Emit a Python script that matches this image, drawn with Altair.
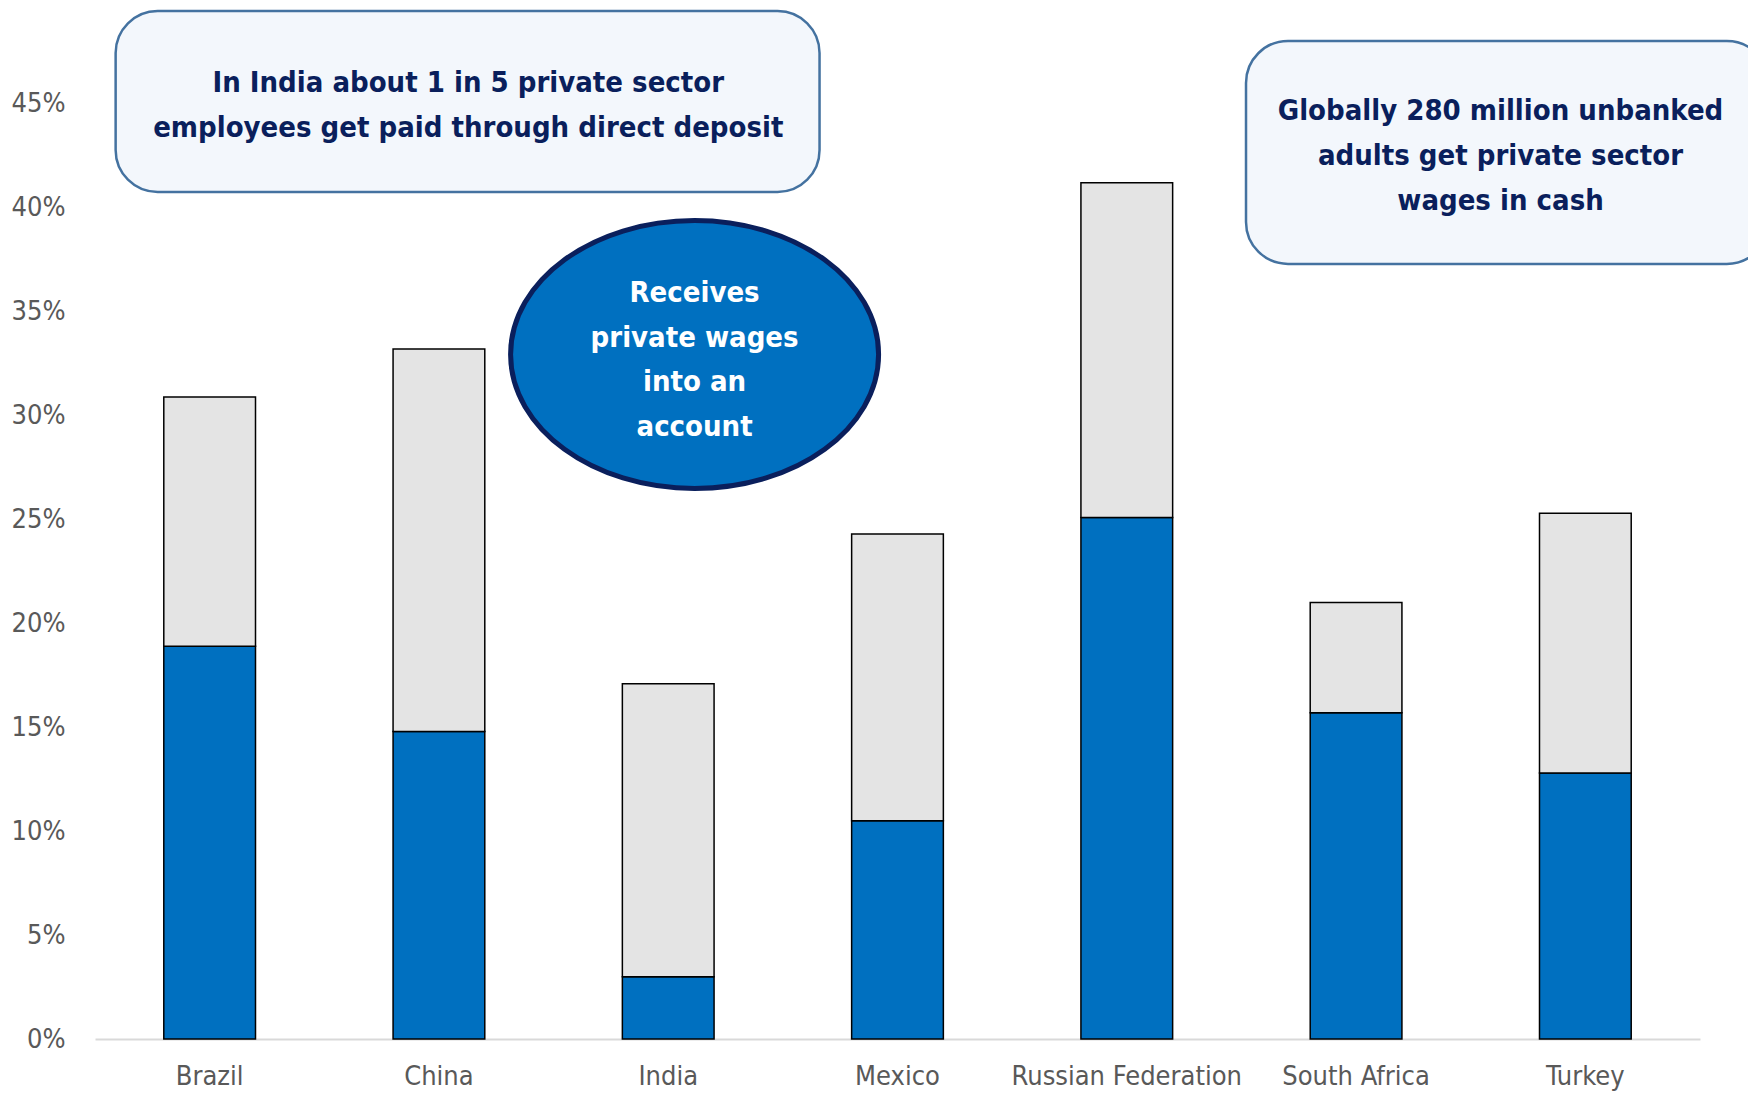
import altair as alt
import pandas as pd

countries = ["Brazil", "China", "India", "Mexico", "Russian Federation", "South Africa", "Turkey"]
into_account = [0.189, 0.148, 0.030, 0.105, 0.251, 0.157, 0.128]
in_cash = [0.120, 0.184, 0.141, 0.138, 0.161, 0.053, 0.125]

y_ticks = [0, 0.05, 0.10, 0.15, 0.20, 0.25, 0.30, 0.35, 0.40, 0.45]

# annotation boxes (x in category-band units, y in share units)
box_x = [0.09, 5.02]
box_x2 = [3.16, 7.30]
box_y = [0.4947, 0.4803]
box_y2 = [0.4076, 0.3730]
box_text = ["In India about 1 in 5 private sector\nemployees get paid through direct deposit",
            "Globally 280 million unbanked\nadults get private sector\nwages in cash"]
box_text_x = [1.628, 6.130]
box_text_y = [0.4600, 0.4465]

oval_x = [2.615]
oval_y = [0.3294]
oval_text_y = [0.3590]
oval_text = ["Receives\nprivate wages\ninto an\naccount"]

FONT = "'Liberation Sans Narrow', 'Arial Narrow', 'DejaVu Sans Condensed', 'Liberation Sans', sans-serif"

rows = []
for c, a, k in zip(countries, into_account, in_cash):
    rows.append({"country": c, "series": "Receives private wages into an account", "value": a, "ord": 0})
    rows.append({"country": c, "series": "Receives private wages in cash", "value": k, "ord": 1})
df = pd.DataFrame(rows)

yscale = alt.Scale(domain=[0, 0.5], nice=False, zero=True)

bars = alt.Chart(df).mark_bar(stroke="black", strokeWidth=1.5).encode(
    x=alt.X("country:N", sort=countries, title=None,
            scale=alt.Scale(paddingInner=0.6, paddingOuter=0.3),
            axis=alt.Axis(labelAngle=0, labelFontSize=27, labelFont=FONT, labelColor="#595959",
                          labelLimit=0, domainColor="#D9D9D9", domainWidth=2, ticks=False,
                          labelPadding=24)),
    y=alt.Y("value:Q", stack="zero", title=None, scale=yscale,
            axis=alt.Axis(values=y_ticks, format=".0%", labelFontSize=27, labelFont=FONT,
                          labelColor="#595959", domain=False, ticks=False, grid=False, labelPadding=30)),
    color=alt.Color("series:N", legend=None,
                    scale=alt.Scale(domain=["Receives private wages into an account", "Receives private wages in cash"],
                                    range=["#0070C0", "#E4E4E4"])),
    order=alt.Order("ord:Q", sort="ascending"),
)

xq = alt.Scale(domain=[0, 7], nice=False, zero=False)

boxes_df = pd.DataFrame({"x": box_x, "x2": box_x2, "y": box_y, "y2": box_y2,
                         "t": box_text, "tx": box_text_x, "ty": box_text_y})

boxes = alt.Chart(boxes_df).mark_rect(fill="#F3F7FC", stroke="#4472A0", strokeWidth=2.5,
                                      cornerRadius=42).encode(
    x=alt.X("x:Q", scale=xq, axis=None), x2="x2:Q",
    y=alt.Y("y:Q", scale=yscale), y2="y2:Q",
)

box_texts = alt.Chart(boxes_df).mark_text(font=FONT, fontSize=29, fontWeight="bold", color="#0A1F5C",
                                          lineBreak="\n", lineHeight=45, baseline="middle",
                                          align="center").encode(
    x=alt.X("tx:Q", scale=xq, axis=None),
    y=alt.Y("ty:Q", scale=yscale),
    text="t:N",
)

oval_df = pd.DataFrame({"x": oval_x, "y": oval_y, "ty": oval_text_y, "t": oval_text})
ellipse_path = "M -1 0 A 1 0.728 0 1 0 1 0 A 1 0.728 0 1 0 -1 0 Z"
oval = alt.Chart(oval_df).mark_point(shape=ellipse_path, filled=True, fill="#0070C0", opacity=1,
                                     fillOpacity=1, stroke="#0A1F5C", strokeWidth=5,
                                     size=368 * 368).encode(
    x=alt.X("x:Q", scale=xq, axis=None),
    y=alt.Y("y:Q", scale=yscale),
)
oval_text_layer = alt.Chart(oval_df).mark_text(font=FONT, fontSize=29, fontWeight="bold", color="white",
                                               lineBreak="\n", lineHeight=44.6, baseline="middle",
                                               align="center").encode(
    x=alt.X("x:Q", scale=xq, axis=None),
    y=alt.Y("ty:Q", scale=yscale),
    text="t:N",
)

chart = alt.layer(bars, boxes, box_texts, oval, oval_text_layer).resolve_scale(
    x="independent"
).properties(
    width=1605, height=1039,
    autosize=alt.AutoSizeParams(type="none"),
    padding={"left": 95, "top": 0, "right": 48, "bottom": 55},
).configure(background="white").configure_view(stroke=None)

chart.save("out.html", embed_options={"renderer": "svg", "actions": False})
